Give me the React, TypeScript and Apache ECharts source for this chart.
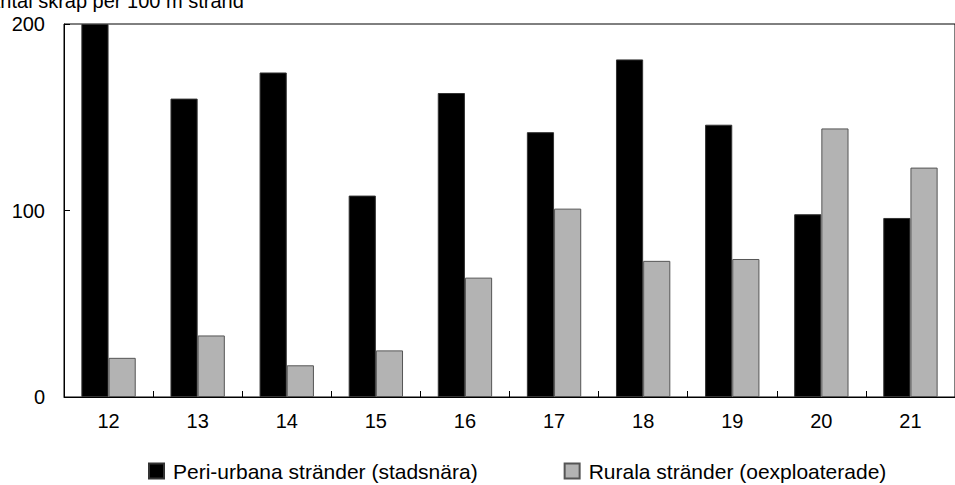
import React, { useEffect, useRef } from "react";
import * as echarts from "echarts";

const categories = ["12", "13", "14", "15", "16", "17", "18", "19", "20", "21"];
const periUrban = [200, 160, 174, 108, 163, 142, 181, 146, 98, 96];
const rural = [21, 33, 17, 25, 64, 101, 73, 74, 144, 123];
const seriesNames = ["Peri-urbana stränder (stadsnära)", "Rurala stränder (oexploaterade)"];
const yTitle = "Antal skräp per 100 m strand";

const FONT = "'Liberation Sans', Arial, sans-serif";

export default function App() {
  const ref = useRef<HTMLDivElement>(null);
  useEffect(() => {
    if (!ref.current) return;
    const chart = echarts.init(ref.current, undefined, { renderer: "svg" });
    chart.setOption({
      animation: false,
      backgroundColor: "#fff",
      textStyle: { fontFamily: FONT },
      grid: {
        left: 64,
        right: -12,
        top: 24,
        bottom: 88,
        show: true,
        borderColor: "#000",
        borderWidth: 1,
        containLabel: false,
      },
      graphic: [
        {
          type: "text",
          x: -13,
          y: -9,
          style: {
            text: yTitle,
            fontSize: 20,
            fontFamily: FONT,
            fill: "#000",
          },
        },
      ],
      legend: {
        top: 460,
        left: 148,
        itemGap: 86,
        itemWidth: 15,
        itemHeight: 15,
        icon: "rect",
        padding: 0,
        textStyle: {
          fontSize: 21,
          lineHeight: 22,
          fontFamily: FONT,
          color: "#000",
          padding: [0, 0, 0, 4],
        },
        data: seriesNames,
      },
      xAxis: {
        type: "category",
        data: categories,
        axisLine: { lineStyle: { color: "#000", width: 1 } },
        axisTick: { show: true, inside: true, length: 6, lineStyle: { color: "#000" } },
        axisLabel: { fontSize: 20, fontFamily: FONT, color: "#000", margin: 14 },
      },
      yAxis: {
        type: "value",
        min: 0,
        max: 200,
        interval: 100,
        axisLine: { show: true, lineStyle: { color: "#000", width: 1 } },
        axisTick: { show: true, inside: true, length: 6, lineStyle: { color: "#000" } },
        axisLabel: { fontSize: 20, fontFamily: FONT, color: "#000", margin: 19 },
        splitLine: { show: false },
      },
      series: [
        {
          name: seriesNames[0],
          type: "bar",
          data: periUrban,
          barWidth: "30.5%",
          barGap: "0%",
          itemStyle: { color: "#000", borderColor: "#333", borderWidth: 1 },
        },
        {
          name: seriesNames[1],
          type: "bar",
          data: rural,
          barWidth: "30.5%",
          barGap: "0%",
          itemStyle: { color: "#b3b3b3", borderColor: "#555", borderWidth: 1 },
        },
      ],
    });
    return () => chart.dispose();
  }, []);
  return (
    <div
      ref={ref}
      style={{ position: "absolute", left: 0, top: 0, width: 955, height: 485, overflow: "hidden" }}
    />
  );
}
